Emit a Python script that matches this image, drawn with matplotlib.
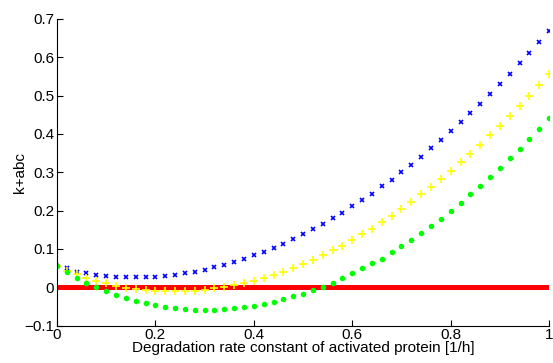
import numpy as np
import matplotlib
matplotlib.use("Agg")
import matplotlib.pyplot as plt

plt.rcParams['font.family'] = ['Liberation Sans', 'DejaVu Sans']

k = np.linspace(0, 1, 51)

blue = [0.055, 0.049, 0.041, 0.036, 0.032, 0.029, 0.027, 0.026, 0.026, 0.026,
        0.027, 0.029, 0.032, 0.036, 0.041, 0.046, 0.052, 0.059, 0.066, 0.074,
        0.083, 0.093, 0.102, 0.114, 0.125, 0.138, 0.151, 0.165, 0.180, 0.195,
        0.211, 0.228, 0.244, 0.263, 0.281, 0.301, 0.320, 0.341, 0.363, 0.385,
        0.408, 0.431, 0.455, 0.479, 0.505, 0.531, 0.557, 0.584, 0.611, 0.640,
        0.668]
yellow = [0.055, 0.043, 0.034, 0.024, 0.016, 0.010, 0.004, -0.001, -0.005, -0.008,
          -0.010, -0.010, -0.010, -0.010, -0.009, -0.006, -0.003, 0.001, 0.005, 0.010,
          0.017, 0.024, 0.031, 0.041, 0.050, 0.060, 0.072, 0.083, 0.097, 0.108,
          0.122, 0.138, 0.152, 0.169, 0.186, 0.205, 0.223, 0.242, 0.262, 0.282,
          0.304, 0.327, 0.348, 0.371, 0.396, 0.420, 0.446, 0.473, 0.499, 0.527,
          0.556]
green = [0.055, 0.039, 0.024, 0.012, 0.000, -0.010, -0.020, -0.028, -0.035, -0.041,
         -0.047, -0.051, -0.055, -0.056, -0.058, -0.058, -0.058, -0.056, -0.055, -0.052,
         -0.049, -0.044, -0.038, -0.031, -0.024, -0.017, -0.008, 0.002, 0.012, 0.023,
         0.036, 0.049, 0.062, 0.075, 0.091, 0.108, 0.124, 0.142, 0.160, 0.179,
         0.199, 0.220, 0.242, 0.265, 0.288, 0.311, 0.336, 0.361, 0.387, 0.414,
         0.441]

fig = plt.figure(figsize=(5.53, 3.63), dpi=100)
ax = fig.add_axes([0.103, 0.103, 0.890, 0.845])

ax.plot([0, 1], [0, 0], color='#ff0000', linewidth=3.6, solid_capstyle='butt')
ax.plot(k, blue, 'x', color='#0000ff', markersize=3, markeredgewidth=1.2)
ax.plot(k, yellow, '+', color='#ffff00', markersize=5.5, markeredgewidth=1.2)
ax.plot(k, green, 'o', color='#00ff00', markersize=4, markeredgewidth=0)

ax.set_xlim(0, 1)
ax.set_ylim(-0.1, 0.7)
ax.set_xticks([0, 0.2, 0.4, 0.6, 0.8, 1])
ax.set_xticklabels(['0', '0.2', '0.4', '0.6', '0.8', '1'])
ax.set_yticks([-0.1, 0, 0.1, 0.2, 0.3, 0.4, 0.5, 0.6, 0.7])
ax.set_yticklabels(['\u22120.1', '0', '0.1', '0.2', '0.3', '0.4', '0.5', '0.6', '0.7'])
ax.tick_params(direction='in', labelsize=11, length=4, pad=2)
ax.spines['top'].set_visible(False)
ax.spines['right'].set_visible(False)

ax.set_xlabel('Degradation rate constant of activated protein [1/h]', fontsize=11, labelpad=-1)
ax.set_ylabel('k+abc', fontsize=11, labelpad=-2)

fig.savefig('out.png', dpi=100)
